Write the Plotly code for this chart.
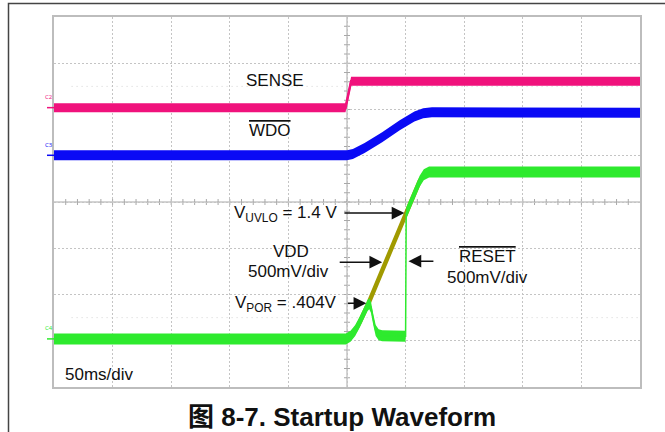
import plotly.graph_objects as go

# ---------------- data (time in divisions, level in divisions) ----------------
SENSE_T = [0, 4.975, 5.07, 10]
SENSE_V = [6.04, 6.04, 6.61, 6.61]

WDO_T = [0, 5.0, 5.1, 5.3, 5.6, 5.9, 6.15, 6.3, 6.45, 10]
WDO_V = [5.01, 5.01, 5.04, 5.17, 5.40, 5.66, 5.85, 5.92, 5.94, 5.93]

VDD_T = [0, 4.98, 5.06, 5.14, 5.22, 5.31, 5.37, 6.01, 6.24, 6.31, 6.40, 10]
VDD_V = [1.04, 1.04, 1.10, 1.22, 1.41, 1.64, 1.82, 3.76, 4.45, 4.59, 4.65, 4.65]

RESET_T = [0, 4.98, 5.06, 5.14, 5.22, 5.31, 5.35, 5.38, 5.41, 5.45, 5.49, 5.54, 5.60,
           6.00, 6.01, 6.24, 6.31, 6.40, 10]
RESET_V = [1.04, 1.04, 1.10, 1.22, 1.41, 1.64, 1.76, 1.80, 1.72, 1.45, 1.22, 1.13, 1.11,
           1.10, 3.76, 4.45, 4.59, 4.65, 4.65]

CHANNELS = ["C2", "C3", "C4"]
CHANNEL_LEVELS = [6.04, 5.01, 1.04]

PINK = "#F0127C"
BLUE = "#0A0AF5"
GREEN = "#2EEA2E"
OLIVE = "#A09A00"

DIV_PX_Y = 370 / 8.0


def band(fig, t, v, color, half_px, center_w):
    h = half_px / DIV_PX_Y
    fig.add_trace(go.Scatter(x=t, y=[a - h for a in v], mode="lines",
                             line=dict(width=0, color=color), hoverinfo="skip",
                             showlegend=False))
    fig.add_trace(go.Scatter(x=t, y=[a + h for a in v], mode="lines", fill="tonexty",
                             fillcolor=color, line=dict(width=0, color=color),
                             hoverinfo="skip", showlegend=False))
    fig.add_trace(go.Scatter(x=t, y=v, mode="lines", line=dict(width=center_w, color=color),
                             hoverinfo="skip", showlegend=False))


fig = go.Figure()

band(fig, SENSE_T, SENSE_V, PINK, 4.5, 2.5)
band(fig, WDO_T, WDO_V, BLUE, 5.0, 2.5)
fig.add_trace(go.Scatter(x=VDD_T, y=VDD_V, mode="lines", line=dict(width=4.5, color=OLIVE),
                         hoverinfo="skip", showlegend=False))
band(fig, RESET_T, RESET_V, GREEN, 5.5, 1.5)

shapes = []
# centre cross lines with minor ticks
shapes.append(dict(type="line", xref="x", yref="y", x0=5, x1=5, y0=0, y1=8,
                   line=dict(color="#a8a8a8", width=1), layer="below"))
shapes.append(dict(type="line", xref="x", yref="y", x0=0, x1=10, y0=4, y1=4,
                   line=dict(color="#a8a8a8", width=1), layer="below"))
for i in range(1, 50):
    x = i * 0.2
    shapes.append(dict(type="line", xref="x", yref="y", x0=x, x1=x,
                       y0=4 - 3 / DIV_PX_Y, y1=4 + 3 / DIV_PX_Y,
                       line=dict(color="#a8a8a8", width=1), layer="below"))
for i in range(1, 40):
    y = i * 0.2
    shapes.append(dict(type="line", xref="x", yref="y", x0=5 - 3 / 58.6, x1=5 + 3 / 58.6,
                       y0=y, y1=y, line=dict(color="#a8a8a8", width=1), layer="below"))
# faint reference dotted lines
for y in [6.5, 1.5]:
    shapes.append(dict(type="line", xref="x", yref="y", x0=0.3, x1=10, y0=y, y1=y,
                       line=dict(color="#d4d4d4", width=1, dash="1px,4px"), layer="below"))
# outer frame
shapes.append(dict(type="rect", xref="paper", yref="paper",
                   x0=(8.5 - 54) / 586, x1=1.3, y0=-0.3, y1=(387 - 3.5) / 370,
                   line=dict(color="#444444", width=1.5)))
# channel markers
chan_colors = [PINK, BLUE, GREEN]
for lvl, col in zip(CHANNEL_LEVELS, chan_colors):
    shapes.append(dict(type="line", xref="paper", yref="y", x0=-7 / 586, x1=0,
                       y0=lvl, y1=lvl, line=dict(color=col, width=1.5)))

ann = []
for name, lvl, col in zip(CHANNELS, CHANNEL_LEVELS, chan_colors):
    ann.append(dict(xref="paper", yref="y", x=-5 / 586, y=lvl + 0.1, text=name,
                    showarrow=False, font=dict(size=6, color=col), xanchor="center",
                    yanchor="bottom"))

F = dict(family="Liberation Sans, Arial, sans-serif", size=17, color="#111111")


def txt(x, y, s, anchor="center"):
    ann.append(dict(xref="x", yref="y", x=x, y=y, text=s, showarrow=False, font=F,
                    xanchor=anchor, yanchor="middle"))


txt(3.77, 6.62, "SENSE")
txt(3.69, 5.54, '<span style="text-decoration:overline">WDO</span>')
txt(4.86, 3.745, 'V<sub>UVLO</sub> = 1.4 V', "right")
txt(4.04, 2.92, "VDD")
txt(4.01, 2.49, "500mV/div")
txt(4.86, 1.795, 'V<sub>POR</sub> = .404V', "right")
txt(7.39, 2.82, '<span style="text-decoration:overline">RESET</span>')
txt(7.39, 2.36, "500mV/div")
txt(0.16, 0.28, "50ms/div", "left")


def arrow(x0, x1, y):
    ann.append(dict(xref="x", yref="y", axref="x", ayref="y", x=x1, y=y, ax=x0, ay=y,
                    text="", showarrow=True, arrowhead=2, arrowsize=1.7, arrowwidth=1.5,
                    arrowcolor="#111111"))


arrow(4.93, 5.98, 3.76)
arrow(4.85, 5.60, 2.70)
arrow(4.99, 5.33, 1.81)
arrow(6.50, 6.05, 2.72)

ann.append(dict(xref="paper", yref="paper", x=(342 - 54) / 586, y=(387 - 416.7) / 370,
                text="<b>图 8-7. Startup Waveform</b>", showarrow=False,
                font=dict(family="Liberation Sans, Arial, Noto Sans CJK SC, sans-serif",
                          size=26, color="#111111"),
                xanchor="center", yanchor="middle"))

axis_common = dict(showticklabels=False, ticks="", zeroline=False, showline=True,
                   mirror=True, linecolor="#bdbdbd", linewidth=1.5, showgrid=True,
                   gridcolor="#c4c4c4", gridwidth=1, griddash="2px,2px", dtick=1,
                   fixedrange=True)

fig.update_layout(
    width=665, height=432,
    margin=dict(l=54, r=25, t=17, b=45),
    paper_bgcolor="white", plot_bgcolor="white",
    xaxis=dict(range=[0, 10], tick0=0, **axis_common),
    yaxis=dict(range=[0, 8], tick0=0, **axis_common),
    shapes=shapes, annotations=ann, showlegend=False,
)

fig.write_html("out.html", config={"displayModeBar": False},
               post_script="document.body.style.margin='0px';"
                           "document.body.style.overflow='hidden';")
